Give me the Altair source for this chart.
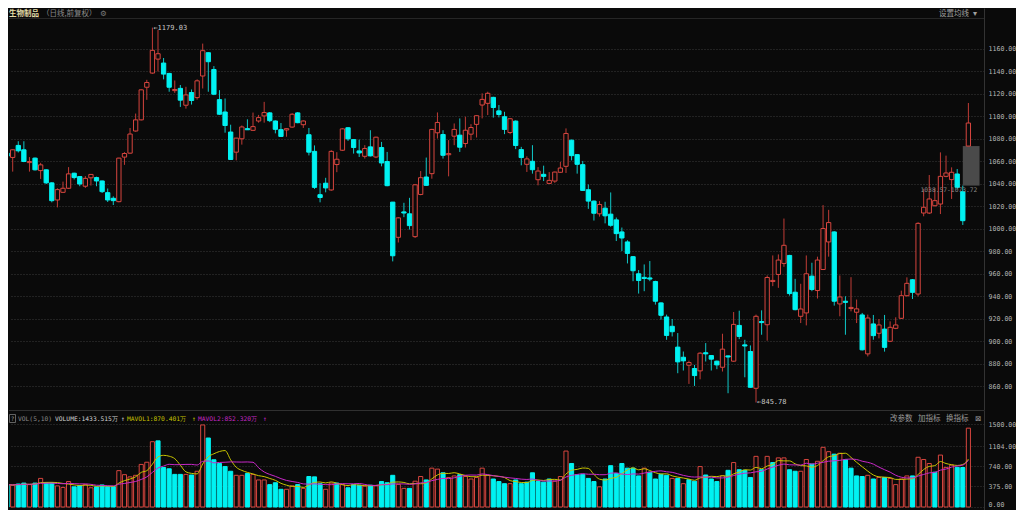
import altair as alt
import pandas as pd

# ---- daily candles, index 1..173 ----
opens = [1067.4,1063.6,1074.3,1070.4,1059.0,1063.0,1051.9,1052.6,1041.0,1025.8,
         1032.6,1036.2,1049.6,1046.6,1038.0,1045.5,1045.7,1042.7,1032.3,1027.3,
         1024.3,1063.9,1067.4,1087.1,1097.0,1126.0,1138.6,1151.0,1147.5,1138.3,
         1123.0,1125.0,1110.0,1121.3,1116.8,1136.0,1156.7,1141.8,1115.0,1104.0,
         1086.2,1068.3,1080.2,1089.2,1087.7,1096.0,1100.5,1103.2,1096.0,1088.3,
         1088.0,1090.6,1103.2,1092.7,1083.8,1069.0,1030.5,1040.7,1034.7,1057.3,
         1070.0,1090.0,1079.5,1069.4,1064.6,1073.0,1064.0,1072.4,1060.0,1023.9,
         992.6,1015.2,1013.5,993.2,1030.7,1046.2,1049.2,1085.5,1084.0,1066.0,
         1082.5,1083.4,1076.0,1084.3,1093.0,1110.2,1111.7,1117.0,1105.0,1099.8,
         1085.8,1095.9,1070.6,1057.5,1060.2,1043.8,1048.6,1040.5,1042.6,1050.4,
         1055.7,1078.9,1066.1,1057.2,1034.9,1024.8,1013.5,1018.5,1013.2,1008.1,
         997.4,988.5,975.4,960.2,957.0,956.5,953.3,934.3,921.8,913.5,
         895.0,886.0,878.9,876.0,873.9,890.0,887.5,882.5,877.1,887.2,
         882.5,914.3,897.0,891.1,858.4,917.8,914.9,953.3,959.6,969.4,
         976.5,943.8,922.4,925.4,958.1,945.3,964.0,988.5,997.4,933.4,
         935.8,929.3,926.0,923.6,889.0,915.6,907.3,911.0,900.2,911.7,
         920.6,940.7,954.9,942.2,1014.2,1014.2,1020.7,1022.2,1046.8,1043.9,
         1048.9,1033.2,1073.72]
highs = [1071.3,1070.7,1078.0,1078.0,1063.9,1063.5,1058.8,1053.0,1041.5,1036.2,
         1042.1,1055.0,1050.0,1047.0,1047.0,1048.8,1046.5,1043.0,1036.0,1029.0,
         1063.3,1068.3,1089.8,1102.6,1124.0,1132.6,1179.03,1177.0,1152.0,1138.8,
         1132.0,1128.0,1126.4,1124.0,1133.0,1164.8,1157.0,1144.8,1123.4,1116.0,
         1092.7,1081.0,1092.0,1097.5,1103.5,1101.4,1113.0,1104.0,1096.5,1094.2,
         1089.5,1103.0,1104.0,1096.5,1089.8,1074.3,1040.7,1045.5,1070.0,1068.3,
         1089.6,1090.5,1080.0,1079.5,1074.5,1087.8,1082.0,1077.4,1068.5,1024.0,
         1010.5,1023.3,1027.7,1040.0,1051.5,1063.5,1089.0,1103.6,1087.8,1079.0,
         1093.8,1098.3,1099.8,1093.2,1101.0,1120.6,1122.0,1117.5,1110.2,1104.2,
         1098.5,1096.5,1073.0,1064.6,1074.5,1055.0,1056.3,1050.6,1051.0,1059.6,
         1089.4,1079.5,1066.5,1060.5,1039.6,1025.3,1024.8,1024.2,1032.5,1010.2,
         1001.3,990.0,976.0,963.5,968.5,971.5,954.0,934.8,923.9,920.0,
         907.5,891.1,883.0,879.2,890.5,898.6,888.0,883.0,906.9,887.5,
         926.2,927.4,901.5,896.5,923.9,927.7,958.7,976.5,977.4,1009.3,
         977.0,955.7,951.3,976.5,970.0,975.4,1021.2,1017.0,998.0,958.7,
         940.2,957.2,937.3,925.4,923.9,923.6,920.0,923.6,917.9,921.5,
         945.2,957.0,955.5,1006.0,1035.6,1048.0,1036.1,1068.1,1065.2,1054.8,
         1053.3,1038.57,1112.0]
lows = [1059.4,1051.0,1068.0,1059.4,1051.0,1052.0,1044.5,1040.0,1023.7,1019.2,
        1032.0,1035.6,1044.0,1038.0,1036.5,1038.6,1038.0,1032.0,1024.0,1021.3,
        1023.7,1057.0,1067.0,1086.5,1096.5,1114.8,1138.0,1140.0,1133.0,1122.0,
        1121.0,1108.5,1107.0,1110.6,1115.0,1124.9,1122.0,1119.0,1101.5,1085.6,
        1061.5,1061.0,1075.0,1088.0,1087.5,1094.5,1094.5,1095.0,1085.0,1082.0,
        1082.0,1090.0,1094.0,1089.8,1065.4,1035.6,1023.7,1032.6,1034.0,1050.5,
        1069.4,1078.3,1067.0,1064.0,1062.6,1064.5,1063.0,1055.7,1038.0,971.2,
        988.0,1010.5,999.5,992.0,1030.0,1038.5,1044.7,1080.4,1062.6,1046.8,
        1074.5,1068.5,1072.4,1079.0,1081.3,1098.3,1101.3,1099.0,1099.2,1084.3,
        1084.3,1071.0,1056.6,1050.7,1049.2,1038.8,1042.6,1040.0,1041.0,1050.0,
        1049.8,1061.0,1049.2,1034.0,1017.9,1007.5,1011.0,1005.0,1002.0,989.3,
        980.4,969.4,953.6,942.6,944.7,953.6,932.8,919.4,901.5,904.5,
        871.8,874.2,862.3,860.5,866.4,882.2,874.2,875.4,873.3,854.0,
        882.0,902.1,868.2,859.0,845.78,906.0,900.7,949.2,947.7,966.4,
        940.8,927.7,916.4,914.3,944.7,938.2,963.5,975.4,931.9,922.4,
        906.0,926.8,916.4,892.0,886.7,901.6,902.8,891.0,899.5,911.0,
        920.0,940.0,937.8,940.1,1011.3,1013.3,1020.0,1013.3,1046.0,1026.7,
        1035.6,1003.6,1073.72]
closes = [1064.8,1070.4,1069.5,1060.0,1060.0,1052.6,1057.0,1041.0,1025.2,1035.0,
          1036.2,1049.0,1045.7,1040.0,1045.0,1048.5,1042.7,1033.2,1025.8,1025.2,
          1063.0,1067.1,1084.4,1097.0,1123.7,1130.2,1158.8,1155.8,1137.7,1126.0,
          1124.0,1114.5,1119.2,1114.2,1131.7,1158.5,1148.7,1119.8,1102.0,1092.0,
          1061.8,1080.8,1090.7,1088.2,1091.0,1099.0,1103.5,1096.3,1088.6,1082.3,
          1089.2,1102.0,1094.5,1096.0,1068.3,1037.0,1028.0,1036.5,1069.0,1062.0,
          1089.0,1080.1,1072.4,1067.6,1071.5,1065.0,1081.6,1058.7,1038.5,976.2,
          1009.9,1014.2,1003.0,1039.3,1045.6,1038.8,1088.5,1094.7,1065.5,1067.0,
          1088.5,1072.7,1087.8,1090.2,1100.7,1115.2,1120.6,1108.0,1101.8,1088.5,
          1098.0,1074.2,1063.5,1062.3,1052.7,1051.5,1046.8,1043.2,1050.6,1054.2,
          1084.9,1065.2,1057.5,1034.3,1024.8,1014.0,1021.8,1011.7,1003.3,995.9,
          992.0,978.3,962.9,954.2,956.0,955.5,935.8,923.3,905.4,908.7,
          881.9,882.8,881.3,869.7,889.6,889.0,884.3,879.2,893.2,886.2,
          915.2,904.5,896.0,859.3,922.4,916.8,956.9,954.3,972.4,985.5,
          942.6,928.3,928.9,960.2,946.2,972.4,1000.4,1005.7,935.8,939.6,
          934.8,930.3,929.0,892.6,920.9,905.2,914.7,894.8,912.6,914.7,
          940.7,951.7,943.7,1005.0,1019.3,1026.7,1025.2,1046.8,1049.8,1050.4,
          1037.0,1007.4,1094.2]
# volume, 万
volumes = [407,396,418,435,407,435,520,441,441,384,
           356,463,367,390,407,350,367,401,373,373,
           661,588,548,576,774,814,1187,1203,718,695,
           593,593,593,582,650,1492,1254,859,791,735,
           650,576,576,610,593,492,492,407,441,322,
           322,384,407,339,554,548,424,322,435,435,
           407,350,407,396,379,396,384,463,441,576,
           412,339,339,469,554,492,706,689,622,537,
           565,588,554,509,537,706,576,509,463,424,
           424,492,424,452,622,463,452,509,469,554,
           1017,791,588,593,520,463,367,509,751,610,
           791,706,706,565,706,633,509,593,576,520,
           520,424,497,469,735,582,509,463,565,667,
           808,678,667,537,921,678,921,808,893,893,
           678,650,650,864,780,831,1085,1006,961,977,
           859,706,565,554,576,509,537,537,520,407,
           509,565,565,904,864,791,633,944,720,760,
           720,718,1433.515]

price_ticks = [860, 880, 900, 920, 940, 960, 980, 1000, 1020, 1040,
               1060, 1080, 1100, 1120, 1140, 1160]
vol_ticks = [0, 375, 740, 1104, 1500]

header_texts = ["VOL(5,10)", "VOLUME:1433.515万", "↑", "MAVOL1:870.401万", "↑",
                "MAVOL2:852.320万", "↑"]
menu_texts = ["改参数", "加指标", "换指标", "⊠"]
title_texts = ["生物制品", "（日线,前复权）", "⚙", "设置均线", "▾"]

BG = "#0a0a0a"
RED = "#d8463f"
RED_W = "#c03c36"
CYAN = "#00f2f2"
CYAN_W = "#10c8c8"
YEL = "#c8c400"
MAG = "#c828c8"
GRID = "#3a3a3a"
LBL = "#b4b4b4"
MONO = "DejaVu Sans Mono"
CJK = "Noto Sans CJK SC"

n = len(closes)
df = pd.DataFrame({"k": list(range(1, n + 1)), "open": opens, "high": highs,
                   "low": lows, "close": closes, "vol": volumes})
df["dir"] = ["up" if c >= o else "down" for o, c in zip(opens, closes)]
prev = df["close"].shift(1).fillna(df["open"])
df["vdir"] = ["up" if c >= p else "down" for c, p in zip(df["close"], prev)]

W = 975
H1 = 402
H2 = 100
xscale = alt.Scale(domain=[2.2346, 174.9], nice=False, zero=False)
pscale = alt.Scale(domain=[839.11, 1196.44], nice=False, zero=False)
vscale = alt.Scale(domain=[-54.5, 1763.6], nice=False, zero=False)
X = alt.X("k:Q", scale=xscale, axis=None)

paxis = alt.Axis(orient="right", values=price_ticks, format=".2f", grid=True,
                 gridDash=[1, 2], gridColor=GRID, ticks=False, domain=True,
                 domainColor="#333333", labelColor=LBL, labelFont=MONO,
                 labelFontSize=6.6, labelPadding=4, title=None, labelFlush=False)
vaxis = alt.Axis(orient="right", values=vol_ticks, format=".2f", grid=True,
                 gridDash=[1, 2], gridColor=GRID, ticks=False, domain=True,
                 domainColor="#333333", labelColor=LBL, labelFont=MONO,
                 labelFontSize=6.6, labelPadding=4, title=None, labelFlush=5)

dir_fill = alt.Fill("dir:N", scale=alt.Scale(domain=["up", "down"], range=[BG, CYAN]), legend=None)
dir_stroke = alt.Stroke("dir:N", scale=alt.Scale(domain=["up", "down"], range=[RED, CYAN]), legend=None)
wick_color = alt.Color("dir:N", scale=alt.Scale(domain=["up", "down"], range=[RED_W, CYAN_W]), legend=None)

base = alt.Chart(df)

def PY(field):
    return alt.Y(field, scale=pscale, axis=paxis, title=None)

wicks = base.mark_rule(strokeWidth=1, clip=True).encode(
    x=X, y=PY("low:Q"), y2="high:Q", color=wick_color)
bodies = base.mark_bar(size=4.3, strokeWidth=1, clip=True).encode(
    x=X, y=PY("open:Q"), y2="close:Q", fill=dir_fill, stroke=dir_stroke)

# gap box between candle 172's high and candle 173's low
gap_lo = highs[-2]
gap_hi = lows[-1]
gap_df = pd.DataFrame({"k0": [n - 1], "k1": [n + 2], "lo": [gap_lo], "hi": [gap_hi], "kl": [n],
                       "label": [f"{gap_lo:.2f}-{gap_hi:.2f}"]})
gap_box = alt.Chart(gap_df).mark_rect(color="#4a4a4a", clip=True).encode(
    x=alt.X("k0:Q", scale=xscale, axis=None), x2="k1:Q",
    y=PY("lo:Q"), y2="hi:Q")
gap_text = alt.Chart(gap_df).mark_text(align="right", baseline="top", dx=9, dy=1,
                                        font=MONO, fontSize=6.3, color="#8c8c8c").encode(
    x=alt.X("kl:Q", scale=xscale, axis=None), y=PY("lo:Q"), text="label:N")

# extremes
kmax = int(df["high"].idxmax())
kmin = int(df["low"].idxmin())
ext_df = pd.DataFrame({"k": [kmax + 1, kmin + 1],
                       "p": [highs[kmax], lows[kmin]],
                       "label": [f"←{highs[kmax]:.2f}", f"←{lows[kmin]:.2f}"]})
ext_text = alt.Chart(ext_df).mark_text(align="left", baseline="middle", dx=1,
                                       font=MONO, fontSize=7, color="#c8c8c8").encode(
    x=alt.X("k:Q", scale=xscale, axis=None), y=PY("p:Q"), text="label:N")

top_sep = alt.Chart(pd.DataFrame({"a": [0]})).mark_rule(color="#262626", strokeWidth=1).encode(
    x=alt.value(0), x2=alt.value(W), y=alt.value(10.5))

title_pos = [0, 33, 91, 960, 964]
title_col = ["#e2dba8", "#8a8a8a", "#7a7a7a", "#a0a0a0", "#a0a0a0"]
title_al = ["left", "left", "left", "right", "left"]
title_marks = []
for t, px, c, al in zip(title_texts, title_pos, title_col, title_al):
    title_marks.append(
        alt.Chart(pd.DataFrame({"t": [t]})).mark_text(
            align=al, baseline="middle", font=CJK if t != "⚙" else "DejaVu Sans",
            fontSize=7.5, fontWeight="bold" if t == "生物制品" else "normal", color=c).encode(
            x=alt.value(float(px)), y=alt.value(5.5), text="t:N"))

top = alt.layer(gap_box, wicks, bodies, gap_text, ext_text, top_sep, *title_marks).properties(
    width=W, height=H1)

# ---- volume panel ----
vfill = alt.Fill("vdir:N", scale=alt.Scale(domain=["up", "down"], range=[BG, CYAN]), legend=None)
vstroke = alt.Stroke("vdir:N", scale=alt.Scale(domain=["up", "down"], range=[RED, CYAN]), legend=None)

def VY(field):
    return alt.Y(field, scale=vscale, axis=vaxis, title=None)

vbars = base.mark_bar(size=4.1, strokeWidth=1, clip=True).encode(
    x=X, y=VY("vol:Q"), y2=alt.datum(0), fill=vfill, stroke=vstroke)
ma = base.transform_window(
    ma5="mean(vol)", frame=[-4, 0], sort=[alt.SortField("k")]
).transform_window(
    ma10="mean(vol)", frame=[-9, 0], sort=[alt.SortField("k")]
)
ma5 = ma.mark_line(color=YEL, strokeWidth=1, clip=True, interpolate="monotone").encode(
    x=X, y=VY("ma5:Q"))
ma10 = ma.mark_line(color=MAG, strokeWidth=1, clip=True, interpolate="monotone").encode(
    x=X, y=VY("ma10:Q"))

mid_sep = alt.Chart(pd.DataFrame({"a": [0]})).mark_rule(color="#303030", strokeWidth=1).encode(
    x=alt.value(0), x2=alt.value(W), y=alt.value(0.5))

help_box = alt.Chart(pd.DataFrame({"a": [0]})).mark_rect(
    fill=BG, stroke="#7a7a7a", strokeWidth=0.8).encode(
    x=alt.value(0.5), x2=alt.value(6.5), y=alt.value(4.5), y2=alt.value(12.5))
help_txt = alt.Chart(pd.DataFrame({"t": ["?"]})).mark_text(
    align="center", baseline="middle", font=MONO, fontSize=6, color="#9a9a9a").encode(
    x=alt.value(3.5), y=alt.value(8.5), text="t:N")

hdr_pos = [9, 46, 112, 118, 183, 189, 254]
hdr_col = ["#8a8a8a", "#d2d2d2", "#d2d2d2", YEL, YEL, MAG, MAG]
hdr_marks = []
for t, px, c in zip(header_texts, hdr_pos, hdr_col):
    hdr_marks.append(
        alt.Chart(pd.DataFrame({"t": [t]})).mark_text(
            align="left", baseline="middle", font=MONO, fontSize=6.3, color=c).encode(
            x=alt.value(px), y=alt.value(8.5), text="t:N"))
menu_pos = [881, 909, 937, 966]
for t, px in zip(menu_texts, menu_pos):
    hdr_marks.append(
        alt.Chart(pd.DataFrame({"t": [t]})).mark_text(
            align="left", baseline="middle", font=CJK if t != "⊠" else "DejaVu Sans",
            fontSize=7.5, color="#9a9a9a").encode(
            x=alt.value(px), y=alt.value(8.5), text="t:N"))

bottom = alt.layer(vbars, ma5, ma10, mid_sep, help_box, help_txt, *hdr_marks).properties(
    width=W, height=H2)

chart = alt.vconcat(top, bottom, spacing=0, bounds="flush").properties(
    padding=0, background=BG
).configure_view(stroke=None).configure_concat(spacing=0)

chart.save("out.html", embed_options={"renderer": "svg", "actions": False})
